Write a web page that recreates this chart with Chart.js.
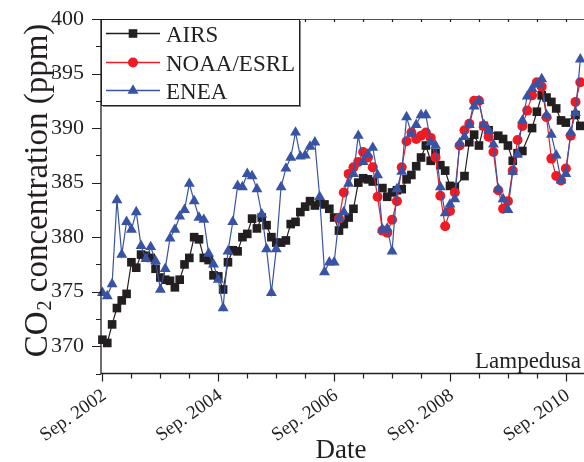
<!DOCTYPE html>
<html lang="en">
<head>
<meta charset="UTF-8">
<title>CO2 concentration - Lampedusa</title>
<script src="https://cdn.jsdelivr.net/npm/chart.js"></script>
<style>
    html, body {
        margin: 0;
        padding: 0;
        background: #fff;
        overflow: hidden;
    }
    #wrap {
        width: 584px;
        height: 462px;
    }
</style>
</head>
<body>
<div id="wrap"><canvas id="co2Chart" width="584" height="462"></canvas></div>

<script>
    // month index counted from Sep. 2002 (0 = Sep. 2002)
    const tickMonths = [0, 24, 48, 72, 96];
    const tickLabels = ['Sep. 2002', 'Sep. 2004', 'Sep. 2006', 'Sep. 2008', 'Sep. 2010'];
    const yTickValues = [370, 375, 380, 385, 390, 395, 400];

    // AIRS monthly values (null = not read)
    const airsFirstMonth = 0;
    const airsCO2 = [
        370.6, 370.3, 372.0, 373.5, 374.2, 374.8, 377.7, 377.2, 378.4, 378.3,
        378.1, 377.1, 376.3, 376.1, 376.0, 375.4, 376.1, 377.5, 378.1, 380.0,
        379.8, 378.1, 377.9, 376.5, 376.4, 375.2, 377.7, 378.8, 378.7, 380.0,
        380.3, 381.7, 380.8, 381.8, 381.1, 380.0, 379.5, 379.5, 379.7, 381.2,
        381.4, 382.3, 382.8, 383.3, 382.9, 383.2, 383.0, 382.6, 381.8, 380.6,
        381.2, 381.8, 382.6, 385.0, 385.4, 385.3, 385.1, null, 384.5, 383.7,
        384.1, 384.3, 384.4, 385.3, 385.7, 386.5, 387.3, 388.4, 387.0, 387.7,
        386.6, 386.1, 384.7, 384.6, null, 385.6, 388.7, 389.4, 388.4, 390.2,
        389.8, null, 389.3, 389.0, 388.4, 387.0, 387.7, 387.9, null, 390.0,
        391.5, 393.0, 392.8, 392.4, 391.8, 390.7, 390.5, null, 391.2, 390.2
    ];

    // NOAA/ESRL
    const noaaFirstMonth = 49;
    const noaaCO2 = [
        381.7, 384.1, 385.8, 386.4, 386.9, 387.8, 387.3, 386.4, 383.7, 380.6,
        380.4, 381.6, 383.3, 386.4, 388.8, 389.6, 389.0, 389.3, 389.6, 389.1,
        387.3, 383.8, 381.0, 382.4, 384.1, 388.4, 389.8, 390.4, 392.5, 392.5,
        390.2, 389.2, 387.8, 384.3, 382.6, 383.3, 386.1, 388.9, 390.2, 391.6,
        393.0, 394.2, 393.8, 391.0, 387.2, 385.6, 385.2, 386.3, 389.3, 392.4,
        394.2
    ];

    // ENEA
    const eneaFirstMonth = 0;
    const eneaCO2 = [
        374.9, 374.6, 375.7, 383.4, 378.4, 381.4, 380.7, 382.3, 379.2, 378.0,
        379.1, 377.8, 375.2, 377.1, 379.9, 380.7, 381.9, 382.5, 384.9, 383.3,
        381.8, 381.6, 378.5, 377.5, 376.1, 373.5, 378.7, 381.4, 384.7, 384.6,
        385.8, 385.6, 384.4, 382.1, 378.9, 374.9, 378.9, 384.6, 386.3, 387.3,
        389.6, 387.4, 387.5, 388.3, 388.7, 383.7, 376.8, 377.7, 377.7, 381.7,
        382.3, 384.9, 385.8, 389.3, 386.9, 387.6, 388.2, 385.7, 380.7, 380.8,
        378.7, 384.4, 386.0, 391.0, 389.5, 390.3, 391.2, 391.2, 388.7, 388.4,
        384.6, 382.2, 383.0, 383.5, 388.6, 389.2, 390.3, 392.0, 392.5, 390.3,
        389.8, 388.5, 384.4, 383.5, 382.5, 386.0, 387.6, 390.7, 392.9, 393.6,
        394.0, 394.5, 391.2, 389.4, 387.5, 385.2, 385.8, 389.6, 391.4, 396.3
    ];

    const FONT = '"Liberation Serif", "Times New Roman", serif';
    const INK = '#231f20';

    function toPoints(first, values) {
        return values.map((v, i) => ({ x: first + i, y: v }));
    }

    const series = [
        { label: 'AIRS', color: '#231f20', shape: 'rect' },
        { label: 'NOAA/ESRL', color: '#ed1c24', shape: 'circle' },
        { label: 'ENEA', color: '#3953a4', shape: 'triangle' }
    ];

    function marker(ctx, shape, x, y, color) {
        ctx.fillStyle = color;
        ctx.beginPath();
        if (shape === 'rect') {
            ctx.rect(x - 4.3, y - 4.3, 8.6, 8.6);
        } else if (shape === 'circle') {
            ctx.arc(x, y, 5, 0, Math.PI * 2);
        } else {
            ctx.moveTo(x, y - 6.3);
            ctx.lineTo(x + 5.5, y + 3.2);
            ctx.lineTo(x - 5.5, y + 3.2);
            ctx.closePath();
        }
        ctx.fill();
    }

    // axes frame, tick marks, titles and the boxed legend
    const decorations = {
        id: 'decorations',
        afterDraw(chart) {
            const ctx = chart.ctx;
            const area = chart.chartArea;
            const xs = chart.scales.x;
            const ys = chart.scales.y;

            ctx.save();
            ctx.strokeStyle = INK;
            ctx.lineWidth = 1.3;
            ctx.beginPath();
            ctx.moveTo(area.left, area.top);
            ctx.lineTo(area.left, area.bottom);
            ctx.lineTo(area.right, area.bottom);
            ctx.stroke();

            ctx.strokeStyle = '#555';
            ctx.lineWidth = 1;
            ctx.beginPath();
            ctx.moveTo(area.left, area.top + 0.5);
            ctx.lineTo(area.right, area.top + 0.5);
            ctx.stroke();

            // x tick marks every 6 months
            ctx.strokeStyle = INK;
            ctx.lineWidth = 1.2;
            ctx.beginPath();
            for (let m = 0; m <= xs.max; m += 6) {
                const px = Math.round(xs.getPixelForValue(m)) + 0.5;
                const len = m % 24 === 0 ? 8 : 5;
                ctx.moveTo(px, area.bottom);
                ctx.lineTo(px, area.bottom + len);
                ctx.moveTo(px, area.top);
                ctx.lineTo(px, area.top + 3);
            }
            // y tick marks every 2.5 ppm
            for (let v = 367.5; v <= 400; v += 2.5) {
                const py = Math.round(ys.getPixelForValue(v)) + 0.5;
                const len = v % 5 === 0 ? 9 : 5;
                ctx.moveTo(area.left - len, py);
                ctx.lineTo(area.left, py);
            }
            ctx.stroke();

            // legend box
            const bx = area.left, by = area.top, bw = 198, bh = 86;
            ctx.fillStyle = '#fff';
            ctx.fillRect(bx + 1, by + 1, bw - 1, bh - 1);
            ctx.strokeStyle = '#888';
            ctx.lineWidth = 2;
            ctx.beginPath();
            ctx.moveTo(bx + bw + 1, by + 2);
            ctx.lineTo(bx + bw + 1, by + bh + 1);
            ctx.lineTo(bx + 2, by + bh + 1);
            ctx.stroke();
            ctx.strokeStyle = INK;
            ctx.lineWidth = 1;
            ctx.strokeRect(bx + 0.5, by + 0.5, bw, bh);

            const rowY = [33.5, 62.5, 90.5];
            ctx.font = '23px ' + FONT;
            ctx.textAlign = 'left';
            ctx.textBaseline = 'alphabetic';
            series.forEach((s, i) => {
                const y = rowY[i];
                ctx.strokeStyle = s.color;
                ctx.lineWidth = 1.3;
                ctx.beginPath();
                ctx.moveTo(bx + 5, y);
                ctx.lineTo(bx + 59, y);
                ctx.stroke();
                marker(ctx, s.shape, bx + 32, y, s.color);
                ctx.fillStyle = INK;
                ctx.fillText(s.label, bx + 65, y + 8);
            });

            // site name
            ctx.fillStyle = INK;
            ctx.font = '23px ' + FONT;
            ctx.textAlign = 'right';
            ctx.fillText('Lampedusa', 581, area.bottom - 6);

            // x title
            ctx.font = '27px ' + FONT;
            ctx.textAlign = 'center';
            ctx.fillText('Date', 341, 458);

            // y title with subscript
            ctx.translate(47, 191);
            ctx.rotate(-Math.PI / 2);
            ctx.textAlign = 'left';
            ctx.font = '33px ' + FONT;
            const w1 = ctx.measureText('CO').width;
            const rest = ' concentration (ppm)';
            const w3 = ctx.measureText(rest).width;
            ctx.font = '20px ' + FONT;
            const w2 = ctx.measureText('2').width;
            let x = -(w1 + w2 + w3) / 2;
            ctx.font = '33px ' + FONT;
            ctx.fillText('CO', x, 0);
            x += w1;
            ctx.font = '20px ' + FONT;
            ctx.fillText('2', x + 1, 4);
            x += w2 + 1;
            ctx.font = '33px ' + FONT;
            ctx.fillText(rest, x, 0);
            ctx.restore();
        }
    };

    const ctx = document.getElementById('co2Chart').getContext('2d');
    const firsts = [airsFirstMonth, noaaFirstMonth, eneaFirstMonth];
    const values = [airsCO2, noaaCO2, eneaCO2];
    const pointStyles = ['rect', 'circle', 'triangle'];
    const pointRadius = [6.1, 5, 6.3];

    const chart = new Chart(ctx, {
        type: 'line',
        data: {
            datasets: series.map((s, i) => ({
                label: s.label,
                data: toPoints(firsts[i], values[i]),
                borderColor: s.color,
                backgroundColor: s.color,
                borderWidth: 1.2,
                pointStyle: pointStyles[i],
                pointRadius: pointRadius[i],
                pointBorderWidth: 0,
                pointHoverRadius: pointRadius[i],
                spanGaps: true,
                tension: 0,
                fill: false,
                clip: false,
                order: 3 - i
            }))
        },
        options: {
            responsive: false,
            animation: false,
            devicePixelRatio: 1,
            layout: {
                autoPadding: false,
                padding: { top: 19, right: 0, bottom: 0, left: 0 }
            },
            plugins: {
                legend: { display: false },
                tooltip: { enabled: false }
            },
            scales: {
                x: {
                    type: 'linear',
                    min: -0.3,
                    max: 99.76,
                    grid: { display: false, drawTicks: false, tickLength: 0 },
                    border: { display: false },
                    afterBuildTicks: s => { s.ticks = tickMonths.map(v => ({ value: v })); },
                    afterFit: s => {
                        s.height = 88.5;
                        s.paddingLeft = 0;
                        s.paddingRight = 0;
                        s.paddingTop = 0;
                        s.paddingBottom = 0;
                    },
                    ticks: {
                        autoSkip: false,
                        minRotation: 35,
                        maxRotation: 35,
                        padding: 11,
                        labelOffset: 2,
                        color: INK,
                        font: { family: FONT, size: 19 },
                        callback: v => tickLabels[tickMonths.indexOf(v)]
                    }
                },
                y: {
                    min: 367.5,
                    max: 400,
                    grid: { display: false, drawTicks: false, tickLength: 0 },
                    border: { display: false },
                    afterBuildTicks: s => { s.ticks = yTickValues.map(v => ({ value: v })); },
                    afterFit: s => {
                        s.width = 101;
                        s.paddingTop = 0;
                        s.paddingBottom = 0;
                        s.paddingLeft = 0;
                        s.paddingRight = 0;
                    },
                    ticks: {
                        padding: 17,
                        color: INK,
                        font: { family: FONT, size: 22 }
                    }
                }
            }
        },
        plugins: [decorations]
    });
</script>
</body>
</html>
